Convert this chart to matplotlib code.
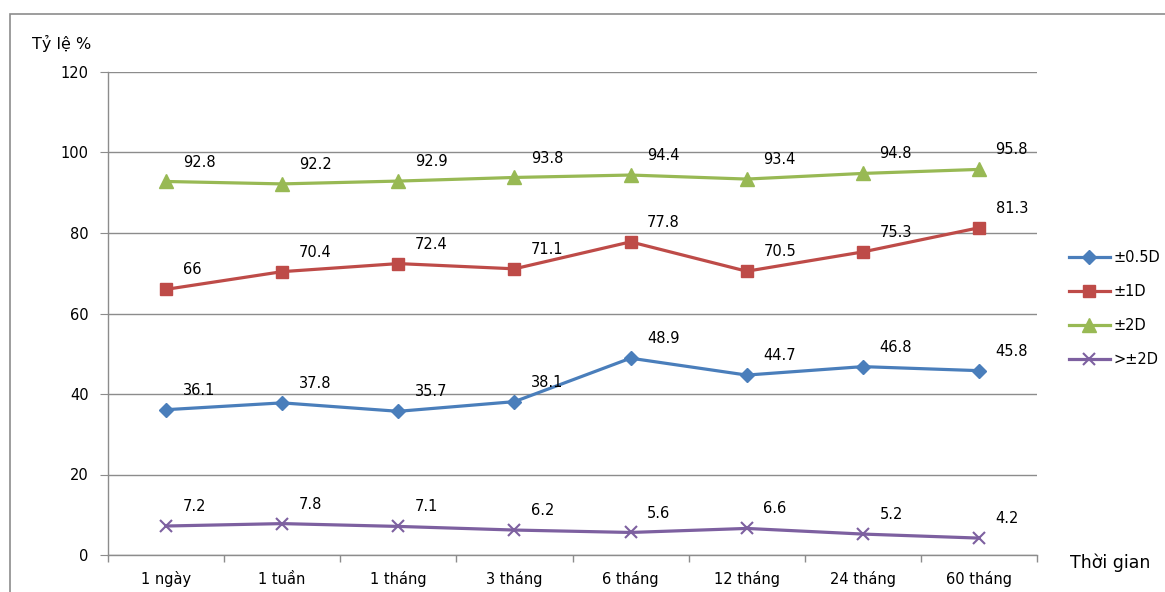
import matplotlib.pyplot as plt
from matplotlib.patches import Rectangle
from matplotlib.ticker import FixedLocator
import numpy as np

plt.rcParams['font.family'] = ['DejaVu Sans']

categories = ['1 ngày', '1 tuần', '1 tháng', '3 tháng', '6 tháng',
              '12 tháng', '24 tháng', '60 tháng']
d05 = [36.1, 37.8, 35.7, 38.1, 48.9, 44.7, 46.8, 45.8]
d1 = [66, 70.4, 72.4, 71.1, 77.8, 70.5, 75.3, 81.3]
d2 = [92.8, 92.2, 92.9, 93.8, 94.4, 93.4, 94.8, 95.8]
over2 = [7.2, 7.8, 7.1, 6.2, 5.6, 6.6, 5.2, 4.2]
series_labels = ['±0.5D', '±1D', '±2D', '>±2D']

styles = [
    dict(color='#4A7EBB', marker='D', ms=7),
    dict(color='#BE4B48', marker='s', ms=9),
    dict(color='#98B954', marker='^', ms=10),
    dict(color='#7D60A0', marker='x', ms=9, mew=1.5),
]

fig = plt.figure(figsize=(11.65, 5.92), dpi=100)
ax = fig.add_axes([108 / 1165, 1 - 555 / 592, 929 / 1165, 483 / 592])

# outer chart frame
fig.patches.append(Rectangle((10 / 1165, -0.1), 1.2, 1 - 14 / 592 + 0.1,
                             transform=fig.transFigure, fill=False,
                             edgecolor='#8c8c8c', lw=1.2))

x = np.arange(len(categories))
for vals, lab, st in zip([d05, d1, d2, over2], series_labels, styles):
    ax.plot(x, vals, lw=2.3, label=lab, clip_on=False, **st)
    for xi, v in zip(x, vals):
        ax.annotate(f'{v:g}', (xi, v), xytext=(12, 14),
                    textcoords='offset points', ha='left', va='center',
                    fontsize=10.5)

ax.set_xlim(-0.5, len(categories) - 0.5)
ax.set_ylim(0, 120)
ax.set_yticks(range(0, 121, 20))
ax.yaxis.grid(True, color='#8c8c8c', lw=1)
ax.set_axisbelow(True)
ax.set_xticks(x)
ax.set_xticklabels(categories, fontsize=10.5, va='baseline')
ax.tick_params(axis='x', length=0, pad=21)
ax.xaxis.set_minor_locator(FixedLocator(np.arange(-0.5, len(categories), 1)))
ax.tick_params(axis='x', which='minor', length=5, color='#8c8c8c', width=1)
ax.tick_params(axis='y', length=6, color='#8c8c8c', labelsize=10.5, pad=8)

for side in ['top', 'right']:
    ax.spines[side].set_visible(False)
for side in ['left', 'bottom']:
    ax.spines[side].set_color('#8c8c8c')
    ax.spines[side].set_linewidth(1)

fig.text(62 / 1165, 1 - 43 / 592, 'Tỷ lệ %', ha='center', va='center',
         fontsize=11.5)
fig.text(1110 / 1165, 1 - 563 / 592, 'Thời gian', ha='center', va='center',
         fontsize=12.5)

ax.legend(loc='center left', bbox_to_anchor=(1.02, 0.51), frameon=False,
          fontsize=10.5, handlelength=2.8, labelspacing=1.3,
          handletextpad=0.3)

fig.savefig('out.png', dpi=100)
